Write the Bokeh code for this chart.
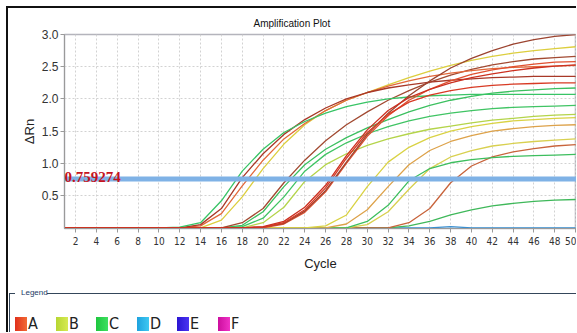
from bokeh.plotting import figure
from bokeh.models import Range1d, FixedTicker, Span, Title, NumeralTickFormatter, Label, Div
from bokeh.layouts import column, row
from bokeh.embed import file_html
from bokeh.resources import INLINE

# ---------------- data ----------------
cycles = [1, 10, 12, 14, 16, 18, 20, 22, 24, 26, 28, 30, 32, 34, 36, 38, 40, 42, 44, 46, 48, 50]

e1_green  = [0, 0, 0.01, 0.08, 0.42, 0.88, 1.22, 1.48, 1.65, 1.78, 1.88, 1.95, 2.0, 2.03, 2.05, 2.06, 2.07, 2.07, 2.07, 2.07, 2.07, 2.07]
e2_darkred = [0, 0, 0.0, 0.05, 0.30, 0.78, 1.15, 1.45, 1.68, 1.86, 2.0, 2.1, 2.17, 2.22, 2.26, 2.29, 2.31, 2.33, 2.34, 2.35, 2.35, 2.35]
e3_orange = [0, 0, 0, 0.03, 0.22, 0.65, 1.05, 1.38, 1.62, 1.82, 1.98, 2.1, 2.2, 2.28, 2.35, 2.4, 2.44, 2.47, 2.49, 2.5, 2.51, 2.52]
e4_yellow = [0, 0, 0, 0.0, 0.12, 0.48, 0.92, 1.3, 1.6, 1.82, 1.98, 2.1, 2.22, 2.33, 2.43, 2.52, 2.6, 2.66, 2.71, 2.75, 2.78, 2.81]
m1_brown  = [0, 0, 0, 0, 0.0, 0.08, 0.3, 0.7, 1.05, 1.35, 1.6, 1.8, 1.98, 2.13, 2.26, 2.37, 2.46, 2.53, 2.58, 2.62, 2.64, 2.66]
m2_green  = [0, 0, 0, 0, 0, 0.04, 0.25, 0.64, 0.98, 1.22, 1.4, 1.55, 1.68, 1.8, 1.9, 1.98, 2.04, 2.09, 2.12, 2.14, 2.16, 2.17]
m3_green  = [0, 0, 0, 0, 0, 0.02, 0.15, 0.48, 0.88, 1.14, 1.32, 1.46, 1.57, 1.66, 1.73, 1.78, 1.82, 1.85, 1.87, 1.88, 1.89, 1.9]
m4_ygreen = [0, 0, 0, 0, 0, 0, 0.08, 0.32, 0.72, 0.98, 1.15, 1.28, 1.38, 1.46, 1.53, 1.58, 1.63, 1.67, 1.7, 1.73, 1.75, 1.76]
s1_red    = [0, 0, 0, 0, 0, 0, 0.02, 0.1, 0.32, 0.66, 1.12, 1.52, 1.82, 2.02, 2.15, 2.25, 2.33, 2.39, 2.44, 2.48, 2.51, 2.53]
s2_red    = [0, 0, 0, 0, 0, 0, 0.01, 0.08, 0.28, 0.62, 1.08, 1.48, 1.76, 1.95, 2.06, 2.13, 2.18, 2.21, 2.23, 2.24, 2.25, 2.25]
s3_brown  = [0, 0, 0, 0, 0, 0, 0.01, 0.07, 0.26, 0.58, 1.02, 1.45, 1.78, 2.05, 2.28, 2.48, 2.63, 2.75, 2.85, 2.92, 2.97, 3.0]
s4_orred  = [0, 0, 0, 0, 0, 0, 0, 0.06, 0.24, 0.56, 1.0, 1.42, 1.74, 1.98, 2.15, 2.28, 2.38, 2.45, 2.5, 2.54, 2.57, 2.58]
l0_yellow = [0, 0, 0, 0, 0, 0, 0, 0, 0, 0.03, 0.2, 0.64, 1.02, 1.25, 1.4, 1.5, 1.57, 1.62, 1.66, 1.68, 1.7, 1.71]
l1_yorange = [0, 0, 0, 0, 0, 0, 0, 0, 0, 0.0, 0.06, 0.28, 0.64, 0.98, 1.2, 1.34, 1.43, 1.5, 1.54, 1.57, 1.59, 1.6]
l2_green  = [0, 0, 0, 0, 0, 0, 0, 0, 0, 0, 0.0, 0.1, 0.35, 0.73, 0.92, 1.01, 1.06, 1.09, 1.11, 1.12, 1.13, 1.14]
l3_yellow = [0, 0, 0, 0, 0, 0, 0, 0, 0, 0, 0.0, 0.05, 0.25, 0.6, 0.92, 1.1, 1.2, 1.27, 1.31, 1.34, 1.36, 1.38]
l4_orbrown = [0, 0, 0, 0, 0, 0, 0, 0, 0, 0, 0, 0, 0.0, 0.08, 0.3, 0.7, 0.96, 1.1, 1.18, 1.23, 1.27, 1.29]
l5_green  = [0, 0, 0, 0, 0, 0, 0, 0, 0, 0, 0, 0, 0.0, 0.03, 0.1, 0.2, 0.28, 0.34, 0.38, 0.41, 0.43, 0.44]
l6_blue   = [0, 0, 0, 0, 0, 0, 0, 0, 0, 0, 0, 0, 0, 0, 0, 0.02, 0, 0, 0, 0, 0, 0]

threshold = 0.759274

y_ticks = [0.5, 1.0, 1.5, 2.0, 2.5, 3.0]
x_ticks = list(range(2, 51, 2))

legend_names = ["A", "B", "C", "D", "E", "F"]
legend_colors_from = ["#E0301C", "#B6D632", "#1EC63E", "#1EA2DE", "#2A14D2", "#CC0E9E"]
legend_colors_to   = ["#F26A34", "#D6EA52", "#3EE060", "#3EC8F2", "#4A34F2", "#F032C6"]

# ---------------- styling ----------------
series = [
    (l6_blue, "#3A8FD0"),
    (l5_green, "#3FB85A"),
    (l4_orbrown, "#C8643C"),
    (l3_yellow, "#D8D050"),
    (l2_green, "#3DBE5E"),
    (l1_yorange, "#DDA24A"),
    (l0_yellow, "#D9D244"),
    (m4_ygreen, "#B4D44A"),
    (m3_green, "#40C464"),
    (m2_green, "#3CC060"),
    (m1_brown, "#A24A32"),
    (e4_yellow, "#DCCE3E"),
    (e3_orange, "#E2683A"),
    (e2_darkred, "#A83828"),
    (e1_green, "#38C466"),
    (s4_orred, "#E05030"),
    (s3_brown, "#9C4430"),
    (s2_red, "#D83A24"),
    (s1_red, "#CC3020"),
]

W = 568       # plot / legend width (page x 8 .. 576)
H1 = 270      # plot height (page y 8 .. 278)
H2 = 54       # legend strip height (page y 278 .. 332)
narrow = "'Liberation Sans Narrow', 'DejaVu Sans Condensed', 'Liberation Sans', sans-serif"

p = figure(width=W, height=H1, output_backend="svg", toolbar_location=None,
           x_range=Range1d(0.94, 50.08), y_range=Range1d(-0.01, 3.0),
           min_border_left=56, min_border_right=0, min_border_top=26, min_border_bottom=50,
           background_fill_color="white", border_fill_color="white")

p.title = Title(text="Amplification Plot", align="left", offset=189,
                text_font_size="10px", text_font_style="normal",
                text_font="Liberation Sans", text_color="#111111", standoff=12)

for ys, col in series:
    p.line(cycles, ys, line_color=col, line_width=1.3)

p.add_layout(Span(location=threshold, dimension="width", line_color="#7FB2E6", line_width=5))
p.add_layout(Label(x=p.x_range.start, y=threshold, text=f"{threshold}", y_offset=2,
                   text_baseline="alphabetic", text_align="left",
                   text_font="Liberation Serif", text_font_style="bold",
                   text_font_size="15px", text_color="#C4141E"))

p.outline_line_color = "#B4B4BC"
p.outline_line_width = 1.5

p.xaxis.ticker = FixedTicker(ticks=x_ticks)
p.yaxis.ticker = FixedTicker(ticks=y_ticks)
p.yaxis.formatter = NumeralTickFormatter(format="0.0")
p.xgrid.ticker = FixedTicker(ticks=x_ticks)
p.ygrid.ticker = FixedTicker(ticks=y_ticks)
for g in (p.xgrid, p.ygrid):
    g.grid_line_color = "#D2D2D2"
    g.grid_line_dash = "2 2"
    g.grid_line_width = 1

for ax in (p.xaxis, p.yaxis):
    ax.axis_line_color = "#9A9A9A"
    ax.major_tick_line_color = "#9A9A9A"
    ax.minor_tick_line_color = None
    ax.major_tick_in = 0
    ax.major_tick_out = 4
    ax.major_label_text_color = "#333333"
    ax.axis_label_text_font_style = "normal"
    ax.axis_label_text_font = "Liberation Sans"
    ax.axis_label_text_color = "#222222"
    ax.axis_label_text_font_size = "13px"

p.xaxis.major_label_text_font = narrow
p.xaxis.major_label_text_font_size = "10px"
p.xaxis.major_label_standoff = 4
p.xaxis.axis_label = "Cycle"
p.xaxis.axis_label_standoff = 8

p.yaxis.major_label_text_font = "Liberation Sans"
p.yaxis.major_label_text_font_size = "12px"
p.yaxis.major_label_standoff = 2
p.yaxis.axis_label = "ΔRn"
p.yaxis.axis_label_standoff = 2

# ---------------- legend strip (HTML) ----------------
parts = ['<div style="position:relative;width:%dpx;height:%dpx;overflow:hidden;background:#ffffff;">' % (W, H2),
         '<div style="position:absolute;left:1px;top:15px;width:6px;height:45px;'
         'border-left:1.5px solid #34465A;border-top:1.5px solid #34465A;"></div>',
         '<div style="position:absolute;left:39px;top:15px;width:%dpx;height:0;'
         'border-top:1.5px solid #34465A;"></div>' % (W - 39),
         '<span style="position:absolute;left:13px;top:10px;font-family:\'Liberation Sans\';'
         'font-size:8px;line-height:10px;color:#223A66;">Legend</span>']
for i, (name, c0, c1) in enumerate(zip(legend_names, legend_colors_from, legend_colors_to)):
    x0 = 7 + round(i * 40.6)
    parts.append('<div style="position:absolute;left:%dpx;top:39px;width:12px;height:14px;'
                 'background:linear-gradient(to right, %s, %s);"></div>' % (x0, c0, c1))
    parts.append('<span style="position:absolute;left:%dpx;top:36px;font-family:%s;'
                 'font-size:16px;line-height:19px;color:#222222;">%s</span>'
                 % (x0 + 13, narrow.replace("'", "&#39;"), name))
parts.append('</div>')
legend_div = Div(text="".join(parts), width=W, height=H2, margin=(0, 0, 0, 0))

left_bar = Div(text='<div style="position:absolute;left:0;top:0;width:2px;height:%dpx;'
                    'background:#111111;"></div>' % (H1 + H2),
               width=2, height=H1 + H2, margin=(0, 0, 0, 6),
               styles={"background-color": "#111111"})
top_bar = Div(text='<div style="position:absolute;left:0;top:0;width:%dpx;height:2px;'
                   'background:#111111;"></div>' % (W + 2),
              width=W + 2, height=2, margin=(6, 0, 0, 6),
              styles={"background-color": "#111111"})

layout = column(top_bar, row(left_bar, column(p, legend_div)))

open("out.html", "w").write(file_html(layout, INLINE))
